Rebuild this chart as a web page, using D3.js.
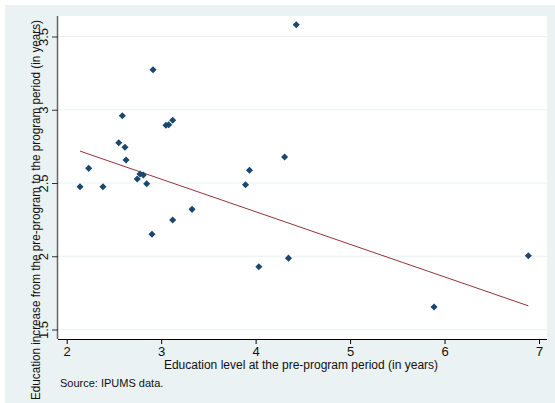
<!DOCTYPE html>
<html>
<head>
<meta charset="utf-8">
<script src="https://cdn.jsdelivr.net/npm/d3@7"></script>
<style>
  html, body { margin: 0; padding: 0; background: #ffffff; }
  svg { display: block; font-family: "Liberation Sans", Arial, sans-serif; }
</style>
</head>
<body>
<svg id="chart" width="555" height="403"></svg>
<script>
// Pre-program education level (years) per group
const preLevel = [2.141, 2.233, 2.384, 2.551, 2.589, 2.617, 2.628, 2.747, 2.776, 2.811,
                  2.847, 2.903, 2.914, 3.051, 3.080, 3.122, 3.122, 3.327, 3.893, 3.935,
                  4.034, 4.307, 4.348, 4.430, 5.889, 6.887];
// Increase in education from pre-program to program period (years)
const increase = [2.475, 2.600, 2.475, 2.775, 2.959, 2.744, 2.657, 2.527, 2.561, 2.555,
                  2.495, 2.150, 3.273, 2.894, 2.898, 2.928, 2.247, 2.320, 2.488, 2.587,
                  1.928, 2.677, 1.987, 3.580, 1.654, 2.004];
// Fitted line: intercept and slope
const fitIntercept = 3.194;
const fitSlope = -0.2225;
const xTicks = [2, 3, 4, 5, 6, 7];
const yTicks = [1.5, 2, 2.5, 3, 3.5];

const svg = d3.select("#chart");
const W = 555, H = 403;

// outer background
svg.append("rect").attr("x", 5).attr("y", 5).attr("width", W - 5).attr("height", H - 5)
  .attr("fill", "#eaf2f3");

const plot = { left: 58, right: 547, top: 16, bottom: 339 };
plot.w = plot.right - plot.left;
plot.h = plot.bottom - plot.top;

svg.append("rect").attr("x", plot.left).attr("y", plot.top)
  .attr("width", plot.w).attr("height", plot.h).attr("fill", "#ffffff");

const x = d3.scaleLinear().domain([2, 7]).range([66.7, 539]);
const y = d3.scaleLinear().domain([1.5, 3.5]).range([329.5, 36.5]);

// horizontal grid lines
svg.append("g").selectAll("line").data(yTicks).join("line")
  .attr("x1", plot.left).attr("x2", plot.right)
  .attr("y1", d => y(d)).attr("y2", d => y(d))
  .attr("stroke", "#eaf2f3").attr("stroke-width", 1.2);

// fitted line
const xs = d3.extent(preLevel);
svg.append("line")
  .attr("x1", x(xs[0])).attr("y1", y(fitIntercept + fitSlope * xs[0]))
  .attr("x2", x(xs[1])).attr("y2", y(fitIntercept + fitSlope * xs[1]))
  .attr("stroke", "#90353b").attr("stroke-width", 1);

// data markers (diamonds)
const diamond = d3.symbol().type(d3.symbolSquare).size(25);
svg.append("g").selectAll("path").data(preLevel).join("path")
  .attr("d", diamond)
  .attr("transform", (d, i) => `translate(${x(d)},${y(increase[i])}) rotate(45)`)
  .attr("fill", "#1a476f");

// x axis
const xAxis = d3.axisBottom(x).tickValues(xTicks).tickSize(5).tickPadding(3)
  .tickFormat(d3.format("d"));
const gx = svg.append("g").attr("transform", `translate(0,${plot.bottom})`).call(xAxis);
gx.select(".domain").attr("d", `M${plot.left},0.5H${plot.right}`).attr("stroke", "#000");
gx.selectAll(".tick line").attr("stroke", "#000");
gx.selectAll(".tick text").attr("font-size", 13).attr("fill", "#111")
  .attr("font-family", "Liberation Sans, Arial, sans-serif");

// y axis with vertical tick labels
const yAxis = d3.axisLeft(y).tickValues(yTicks).tickSize(6).tickFormat(d3.format("~g"));
const gy = svg.append("g").attr("transform", `translate(${plot.left},0)`).call(yAxis);
gy.select(".domain").attr("d", `M-0.5,${plot.top}V${plot.bottom}`).attr("stroke", "#666")
  .attr("stroke-width", 1.5);
gy.selectAll(".tick line").attr("stroke", "#333");
gy.selectAll(".tick text")
  .attr("x", 0).attr("dy", null)
  .attr("transform", "translate(-10,0) rotate(-90)")
  .attr("text-anchor", "middle")
  .attr("font-size", 13).attr("fill", "#111")
  .attr("font-family", "Liberation Sans, Arial, sans-serif");

// axis titles
svg.append("text")
  .attr("transform", "translate(40,210) rotate(-90)")
  .attr("text-anchor", "middle")
  .attr("font-size", 12).attr("fill", "#111")
  .attr("textLength", 380).attr("lengthAdjust", "spacingAndGlyphs")
  .text("Education increase from the pre-program to the program period (in years)");

svg.append("text")
  .attr("x", 301).attr("y", 369)
  .attr("text-anchor", "middle")
  .attr("font-size", 12).attr("fill", "#111")
  .text("Education level at the pre-program period (in years)");

svg.append("text")
  .attr("x", 60).attr("y", 387)
  .attr("font-size", 11).attr("fill", "#111")
  .text("Source: IPUMS data.");
</script>
</body>
</html>
